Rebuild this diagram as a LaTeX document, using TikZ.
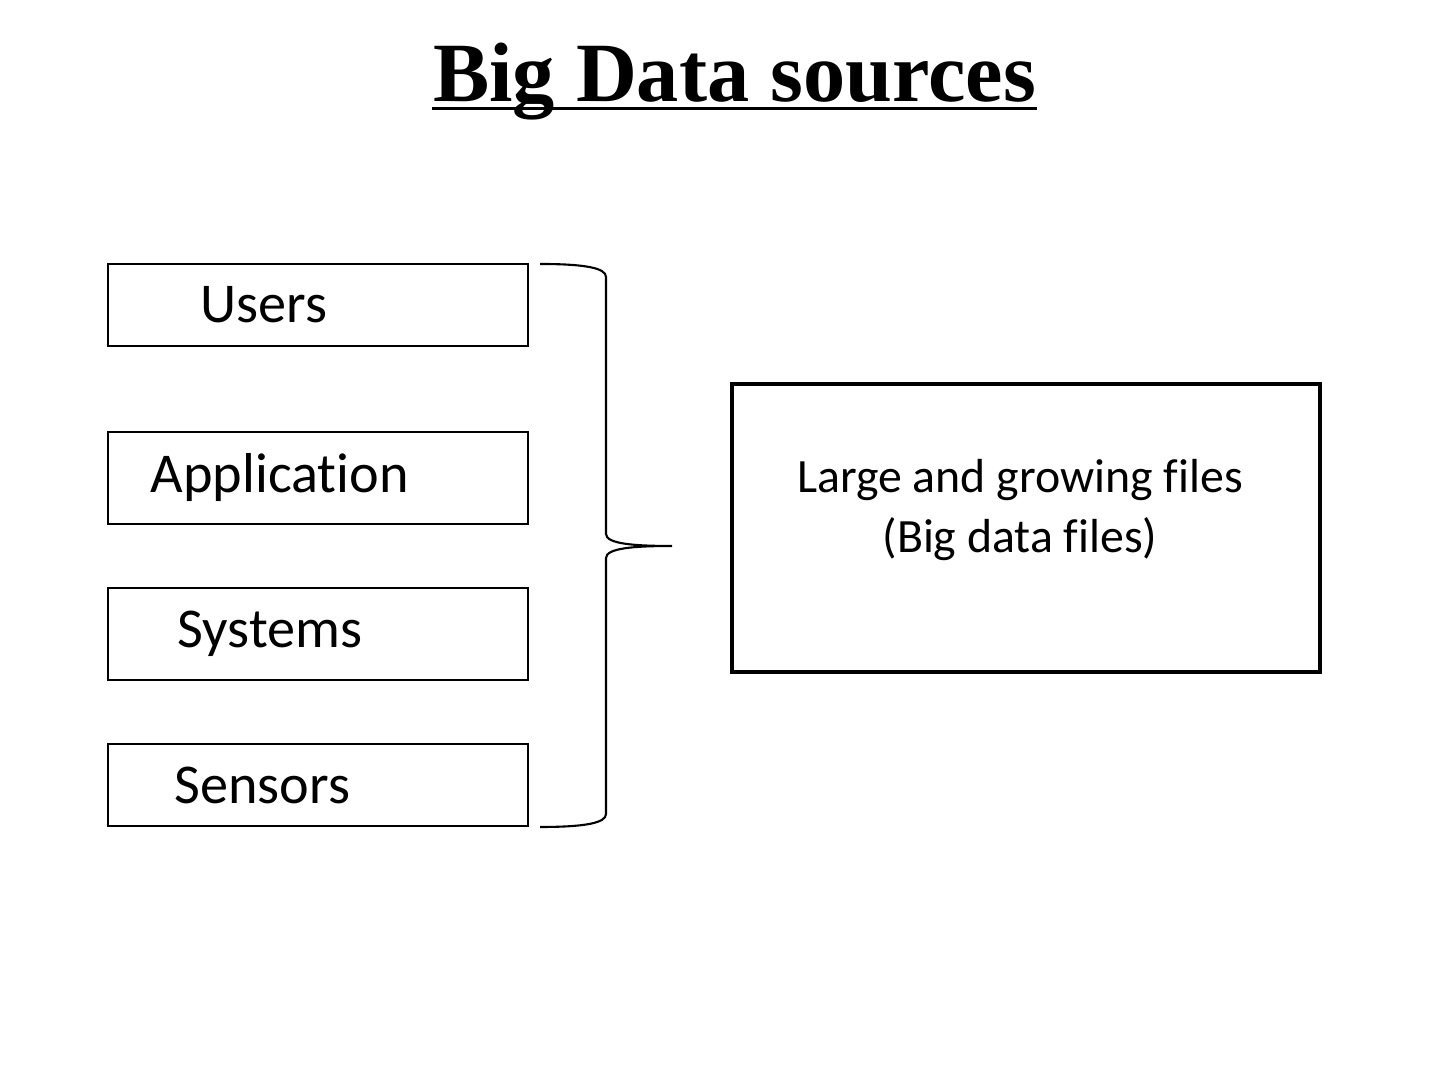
\documentclass[tikz,border=0pt]{standalone}
\usepackage{fontspec}
\setmainfont{Liberation Serif}
\newfontfamily\calibri[Ligatures=NoCommon]{Carlito}
\usetikzlibrary{positioning}
\tikzset{
    srcbox/.style = {rectangle, semithick, draw=black, minimum width=4.2cm, minimum height=0.82cm, inner sep=0pt},
    srcboxt/.style = {rectangle, semithick, draw=black, minimum width=4.2cm, minimum height=0.92cm, inner sep=0pt},
    srclabel/.style = {anchor=west, inner sep=0pt, font=\calibri\fontsize{16}{19}\selectfont},
    filebox/.style = {rectangle, very thick, draw=black, minimum width=5.88cm, minimum height=2.88cm, inner sep=0pt},
    filelabel/.style = {align=center, inner sep=0pt, font=\calibri\fontsize{13.6}{17}\selectfont},
    titlenode/.style = {anchor=base, inner sep=0pt, font=\bfseries\fontsize{24}{28}\selectfont},
    edgebrace/.style = {-,semithick,black},
    edgeline/.style = {-,line width=1.1pt,black}
}
\begin{document}
\begin{tikzpicture}
\useasboundingbox (0,0) rectangle (14.4,10.8);
%
\node[titlenode] at (7.345,9.78) (title) {Big Data sources};
\draw[edgeline] ([yshift=-0.065cm]title.base west) -- ([yshift=-0.065cm]title.base east);
%
\node[srcbox] at (3.18,7.75) (users) {};
\node[srcboxt] at (3.18,6.02) (app) {};
\node[srcboxt] at (3.18,4.46) (sys) {};
\node[srcbox] at (3.18,2.95) (sens) {};
%
\node[srclabel] at ([xshift=0.93cm]users.west) (usersl) {Users};
\node[srclabel] at ([xshift=0.43cm]app.west) (appl) {Application};
\node[srclabel] at ([xshift=0.70cm]sys.west) (sysl) {Systems};
\node[srclabel] at ([xshift=0.67cm]sens.west) (sensl) {Sensors};
%
\node[filebox] at (10.26,5.52) (files) {};
\node[filelabel] at (10.20,5.70) (filesl) {Large and growing files\\(Big data files)};
%
\coordinate (btop) at (5.40,8.16);
\coordinate (btip) at (6.72,5.34);
\coordinate (bbot) at (5.40,2.53);
\draw[edgebrace] (btop) .. controls (5.85,8.16) and (6.06,8.12) .. (6.06,8.03)
    -- (6.06,5.46) .. controls (6.06,5.36) and (6.35,5.34) .. (btip)
    .. controls (6.35,5.34) and (6.06,5.32) .. (6.06,5.22)
    -- (6.06,2.66) .. controls (6.06,2.57) and (5.85,2.53) .. (bbot);
\end{tikzpicture}
\end{document}
